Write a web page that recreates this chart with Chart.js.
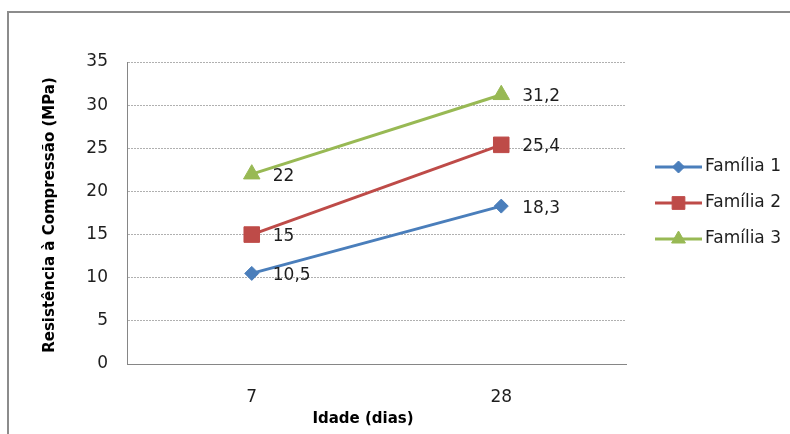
<!DOCTYPE html>
<html>
<head>
<meta charset="utf-8">
<script src="https://cdn.jsdelivr.net/npm/chart.js@4/dist/chart.umd.min.js"></script>
<style>
  html, body { margin: 0; padding: 0; background: #ffffff; }
  #wrap { width: 790px; height: 434px; position: relative; }
</style>
</head>
<body>
<div id="wrap"><canvas id="c" width="790" height="434"></canvas></div>
<script>
// Idade (dias) on the category axis
const idades = ['7', '28'];

// Resistência à compressão (MPa) per família
const familia1 = [10.5, 18.3];
const familia2 = [15, 25.4];
const familia3 = [22, 31.2];

const nomesSeries = ['Família 1', 'Família 2', 'Família 3'];
const yTicks = [0, 5, 10, 15, 20, 25, 30, 35];

const FONT = "'DejaVu Sans', sans-serif";
const cores = ['#4a7ebb', '#be4b48', '#98b954'];
const estilos = ['rectRot', 'rect', 'triangle'];
const raios = [7, 11, 9.5];
const raiosLegenda = [6, 9, 8];

function fmt(v) { return String(v).replace('.', ','); }

// Outer frame of the chart object
const moldura = {
  id: 'moldura',
  beforeDraw(chart) {
    const ctx = chart.ctx;
    ctx.save();
    ctx.fillStyle = '#ffffff';
    ctx.fillRect(0, 0, chart.width, chart.height);
    ctx.strokeStyle = '#8c8c8c';
    ctx.lineWidth = 2;
    ctx.strokeRect(8, 12, 900, 600);
    ctx.restore();
  }
};

// Value labels to the right of each marker
const rotulos = {
  id: 'rotulos',
  afterDatasetsDraw(chart) {
    const ctx = chart.ctx;
    ctx.save();
    ctx.font = '17px ' + FONT;
    ctx.fillStyle = '#1e1e1e';
    ctx.textAlign = 'left';
    ctx.textBaseline = 'middle';
    chart.data.datasets.forEach((ds, i) => {
      chart.getDatasetMeta(i).data.forEach((pt, j) => {
        ctx.fillText(fmt(ds.data[j]), pt.x + 21, pt.y + 2);
      });
    });
    ctx.restore();
  }
};

// Legend: line sample with marker, then the series name
const legenda = {
  id: 'legenda',
  afterDraw(chart) {
    const ctx = chart.ctx;
    ctx.save();
    const x0 = 655, x1 = 702, linhas = [167, 203, 239];
    chart.data.datasets.forEach((ds, i) => {
      const y = linhas[i];
      ctx.strokeStyle = ds.borderColor;
      ctx.lineWidth = 3;
      ctx.beginPath();
      ctx.moveTo(x0, y);
      ctx.lineTo(x1, y);
      ctx.stroke();
      ctx.fillStyle = ds.borderColor;
      ctx.lineWidth = 1;
      Chart.helpers.drawPoint(ctx, { pointStyle: ds.pointStyle, radius: raiosLegenda[i], rotation: 0, borderWidth: 1 }, (x0 + x1) / 2, y);
      ctx.font = '17px ' + FONT;
      ctx.fillStyle = '#1e1e1e';
      ctx.textAlign = 'left';
      ctx.textBaseline = 'middle';
      ctx.fillText(ds.label, 705, y);
    });
    ctx.restore();
  }
};

// Axis titles
const titulos = {
  id: 'titulos',
  afterDraw(chart) {
    const ctx = chart.ctx;
    ctx.save();
    ctx.font = 'bold 15px ' + FONT;
    ctx.fillStyle = '#000000';
    ctx.textAlign = 'center';
    ctx.textBaseline = 'middle';
    ctx.fillText('Idade (dias)', 363, 419);
    ctx.translate(50, 215);
    ctx.rotate(-Math.PI / 2);
    ctx.fillText('Resistência à Compressão (MPa)', 0, 0);
    ctx.restore();
  }
};

const series = [familia1, familia2, familia3];

new Chart(document.getElementById('c'), {
  type: 'line',
  data: {
    labels: idades,
    datasets: series.map((d, i) => ({
      label: nomesSeries[i],
      data: d,
      borderColor: cores[i],
      backgroundColor: cores[i],
      borderWidth: 3,
      pointStyle: estilos[i],
      pointRadius: raios[i],
      pointHoverRadius: raios[i],
      pointBackgroundColor: cores[i],
      pointBorderColor: cores[i],
      pointBorderWidth: 1,
      tension: 0,
      clip: false
    }))
  },
  options: {
    responsive: false,
    animation: false,
    events: [],
    layout: { padding: { left: 0, top: 62, right: 164, bottom: 0 } },
    plugins: {
      legend: { display: false },
      tooltip: { enabled: false },
      title: { display: false }
    },
    scales: {
      x: {
        type: 'category',
        offset: true,
        grid: { display: false, drawTicks: false },
        border: { display: true, color: '#868686', width: 1 },
        ticks: { font: { family: FONT, size: 17 }, color: '#1e1e1e', padding: 23 },
        afterFit(scale) { scale.height = 70; }
      },
      y: {
        min: 0,
        max: 35,
        afterBuildTicks(scale) { scale.ticks = yTicks.map(v => ({ value: v })); },
        grid: { display: true, drawTicks: false, color: '#b0b0b0', lineWidth: 1 },
        border: { display: true, color: '#868686', width: 1, dash: [2, 1] },
        ticks: { font: { family: FONT, size: 17 }, color: '#1e1e1e', padding: 19 },
        afterFit(scale) { scale.width = 127; }
      }
    }
  },
  plugins: [moldura, rotulos, legenda, titulos]
});
</script>
</body>
</html>
